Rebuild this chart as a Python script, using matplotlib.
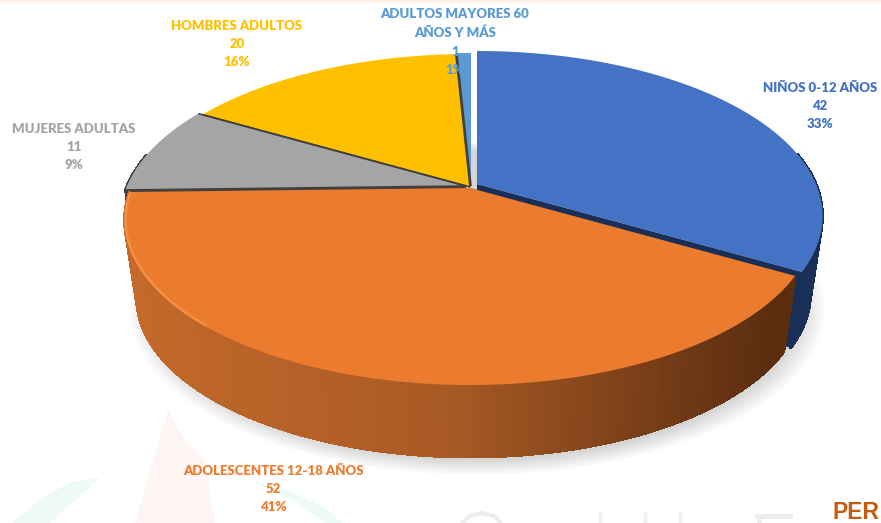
import numpy as np
import matplotlib
matplotlib.use("Agg")
import matplotlib.pyplot as plt
from matplotlib.collections import PolyCollection
from matplotlib.colors import LinearSegmentedColormap

# slices, clockwise from 12 o'clock
categories = ["NIÑOS 0-12 AÑOS", "ADOLESCENTES 12-18 AÑOS", "MUJERES ADULTAS",
              "HOMBRES ADULTOS", "ADULTOS MAYORES 60\nAÑOS Y MÁS"]
values = [42, 52, 11, 20, 1]

top_colors = ["#4472C4", "#EB7B2E", "#A5A5A5", "#FFC000", "#5B9BD5"]
text_colors = ["#4472C4", "#ED7D31", "#A5A5A5", "#FFC000", "#5B9BD5"]
side_dark = ["#1A2F57", "#5C2E10", "#404040", "#5F4800", "#24405E"]
side_light = ["#1A2F57", "#C4692B", "#404040", "#5F4800", "#24405E"]
explode = [(6, -1), (-1, 3), (-5, 1), (-1, 2), (0, 1)]
label_pos = [(820, 106), (273, 489), (74, 147), (237, 44), (455, 42)]

# pie geometry in pixels, with a bit of perspective
CX, CY = 471, 185
R, H, K = 339, 158.8, 0.194
DROP, SHRINK = 79, 0.965


def project(theta, off=(0, 0), bottom=False, scale=1.0):
    u, v = np.sin(theta) * scale, np.cos(theta) * scale
    s = 1 / (1 + K * v)
    if bottom:
        s = s * SHRINK
    return CX + off[0] + R * u * s, CY + off[1] - H * v * s + (DROP if bottom else 0)


fig = plt.figure(figsize=(8.81, 5.23), dpi=100)
ax = fig.add_axes([0, 0, 1, 1])
ax.set_xlim(0, 881)
ax.set_ylim(523, 0)
ax.axis("off")

# top strip and faint watermark behind the chart
ax.fill([0, 881, 881, 0], [0, 0, 2.5, 2.5], color="#FDF1EA", lw=0)
ax.fill([135, 150, 168, 185, 205, 215, 205, 180, 150], [523, 470, 410, 440, 460, 523, 523, 523, 523],
        color="#FDF6F4", lw=0)
ax.fill([12, 40, 70, 100, 75, 50, 35], [523, 500, 482, 478, 500, 523, 523], color="#EEFAF5", lw=0)
ax.fill([250, 285, 320, 343, 325, 300], [480, 490, 505, 523, 523, 505], color="#EEFAF5", lw=0)
ax.plot([462, 470, 482, 494, 500], [523, 516, 513, 516, 522], color="#EDEDED", lw=3)
for xw in [600, 645, 680]:
    ax.plot([xw, xw], [514, 523], color="#F0F0F0", lw=2.5)
ax.plot([757, 790], [516, 516], color="#EDEDED", lw=3.5)
ax.plot([759, 759], [516, 523], color="#EDEDED", lw=3.5)

# soft shadow under the pie
th = np.linspace(0, 2 * np.pi, 240)
for grow in np.linspace(1.045, 0.97, 14):
    sx, sy = project(th, off=(6, 12), bottom=True)
    ax.fill(CX + (sx - CX) * grow, CY + DROP + (sy - CY - DROP) * grow, color="#000000", alpha=0.012, lw=0)

# angles for every slice
total = sum(values)
edges = np.cumsum([0] + values) / total * 2 * np.pi

# painter's order, far slices first
for i in [4, 3, 2, 0, 1]:
    a0, a1 = edges[i], edges[i + 1]
    off = explode[i]
    th = np.linspace(a0, a1, 200)

    # cut faces, only the ones turned towards the viewer
    for a in (a0, a1):
        if np.cos(a) > 0:
            continue
        ex, ey = project(a, off)
        bx, by = project(a, off, bottom=True)
        ax.fill([CX + off[0], ex, bx, CX + off[0]], [CY + off[1], ey, by, CY + off[1] + DROP],
                color=side_dark[i], lw=0)

    # outer wall, shaded left to right, far side is hidden anyway
    cmap = LinearSegmentedColormap.from_list("wall", [side_light[i], "#A85A24", side_dark[i]]
                                             if i == 1 else [side_light[i], side_dark[i]])
    tx, ty = project(th, off)
    bx, by = project(th, off, bottom=True)
    quads = [[(tx[j], ty[j]), (tx[j + 1], ty[j + 1]), (bx[j + 1], by[j + 1]), (bx[j], by[j])]
             for j in range(len(th) - 1) if np.cos(th[j]) < 0.2]
    shade = np.clip((tx[:-1][np.cos(th[:-1]) < 0.2] - 130) / 640, 0, 1)
    if quads:
        ax.add_collection(PolyCollection(quads, facecolors=cmap(shade), edgecolors=cmap(shade),
                                         linewidths=1.2, antialiaseds=False))

    # top face
    ax.fill(np.r_[CX + off[0], tx], np.r_[CY + off[1], ty], color=top_colors[i], lw=0)

    # dark seam along the straight edges of the back slices
    if i in (2, 3, 4):
        for a in ((a0, a1) if i != 4 else (a0,)):
            ex, ey = project(a, off)
            ax.plot([CX + off[0], ex], [CY + off[1], ey], color=side_dark[2], lw=1.2, solid_capstyle="butt")

# light rim on the orange slice
rim = np.linspace(np.radians(222), edges[2] - 0.01, 80)
rx, ry = project(rim, explode[1], scale=0.997)
ax.plot(rx, ry, color="#F58F42", lw=1.8)

# labels
plt.rcParams["font.family"] = ["Lato", "DejaVu Sans"]
for i, name in enumerate(categories):
    pct = round(values[i] / total * 100)
    ax.text(label_pos[i][0], label_pos[i][1], f"{name}\n{values[i]}\n{pct}%", color=text_colors[i],
            fontsize=9.5, fontweight="heavy", ha="center", va="center", linespacing=1.62,
            family=["Lato", "DejaVu Sans"], zorder=10)

ax.text(879, 519, "PER", color="#C55A11", fontsize=16.5, fontweight="bold", ha="right", va="baseline",
        family=["Liberation Sans"], zorder=10)

fig.savefig("out.png", dpi=100)
